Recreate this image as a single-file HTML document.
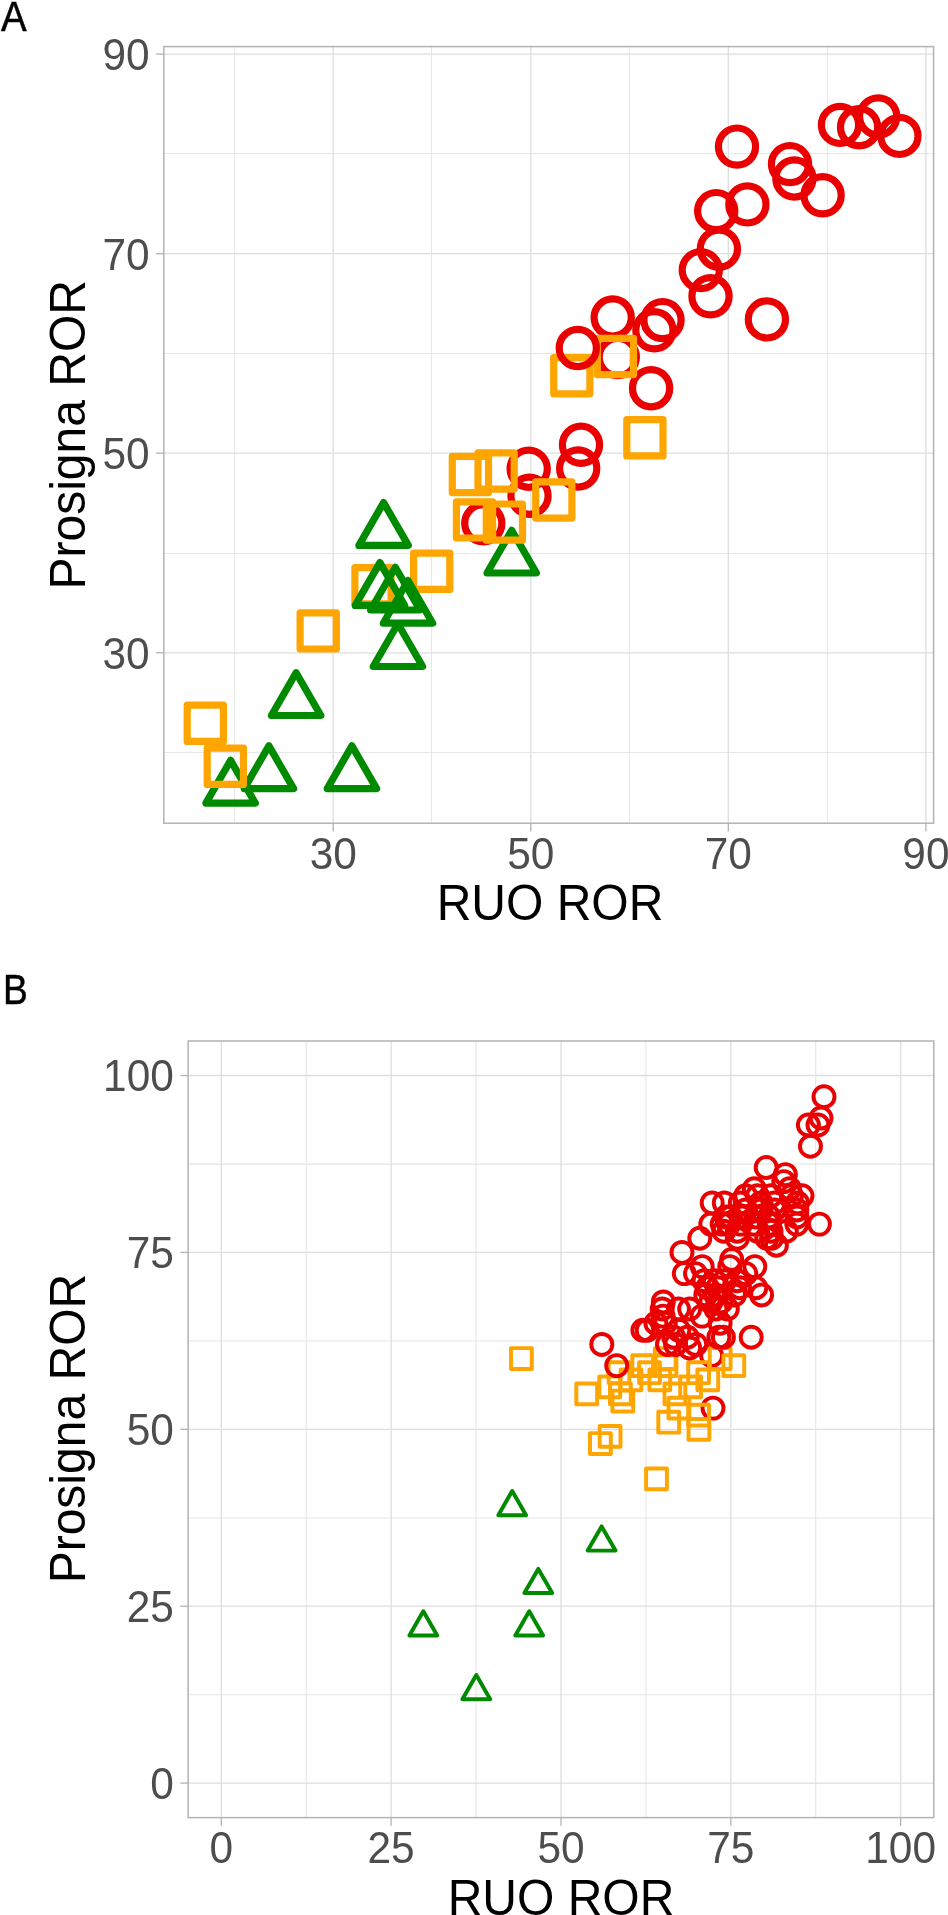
<!DOCTYPE html>
<html lang="en"><head><meta charset="utf-8"><title>ROR scatter</title>
<style>html,body{margin:0;padding:0;background:#fff}body{width:948px;height:1915px;overflow:hidden}svg{display:block;will-change:transform}</style>
</head><body>
<svg width="948" height="1915" viewBox="0 0 948 1915">
<rect width="948" height="1915" fill="#fff"/>
<g stroke="#E7E7E7" stroke-width="1" fill="none">
<path d="M234.5 46.6V823.2"/>
<path d="M163.8 752.5H933.6"/>
<path d="M431.5 46.6V823.2"/>
<path d="M163.8 553.5H933.6"/>
<path d="M629.5 46.6V823.2"/>
<path d="M163.8 353.5H933.6"/>
<path d="M827.5 46.6V823.2"/>
<path d="M163.8 153.5H933.6"/>
</g>
<g stroke="#DEDEDE" stroke-width="1.3" fill="none">
<path d="M333.2 46.6V823.2"/>
<path d="M163.8 652.8H933.6"/>
<path d="M530.8 46.6V823.2"/>
<path d="M163.8 453.2H933.6"/>
<path d="M728.3 46.6V823.2"/>
<path d="M163.8 253.7H933.6"/>
<path d="M925.9 46.6V823.2"/>
<path d="M163.8 54.1H933.6"/>
</g>
<g fill="none" stroke-width="7.2" stroke-linejoin="round">
<rect x="354.9" y="567.7" width="36.2" height="36.2" stroke="#FFA500"/>
<rect x="413.6" y="553.2" width="36.2" height="36.2" stroke="#FFA500"/>
<path d="M383.6 502.6L408.3 545.4L358.9 545.4Z" stroke="#008A00"/>
<path d="M379.9 562.6L404.6 605.4L355.2 605.4Z" stroke="#008A00"/>
<path d="M395.3 567.3L420.0 610.0L370.6 610.0Z" stroke="#008A00"/>
<path d="M408.0 580.5L432.7 623.2L383.3 623.2Z" stroke="#008A00"/>
<path d="M397.9 623.7L422.6 666.5L373.2 666.5Z" stroke="#008A00"/>
<path d="M511.7 530.3L536.4 573.0L487.0 573.0Z" stroke="#008A00"/>
<path d="M296.1 672.7L320.8 715.5L271.4 715.5Z" stroke="#008A00"/>
<path d="M268.9 745.9L293.6 788.6L244.2 788.6Z" stroke="#008A00"/>
<path d="M351.9 745.9L376.6 788.6L327.2 788.6Z" stroke="#008A00"/>
<path d="M230.6 760.4L255.3 803.1L205.9 803.1Z" stroke="#008A00"/>
<circle cx="737.0" cy="146.6" r="18.6" stroke="#EA0000"/>
<circle cx="840.0" cy="124.9" r="18.6" stroke="#EA0000"/>
<circle cx="859.1" cy="127.2" r="18.6" stroke="#EA0000"/>
<circle cx="878.2" cy="116.5" r="18.6" stroke="#EA0000"/>
<circle cx="899.4" cy="135.9" r="18.6" stroke="#EA0000"/>
<circle cx="790.0" cy="164.1" r="18.6" stroke="#EA0000"/>
<circle cx="794.4" cy="178.5" r="18.6" stroke="#EA0000"/>
<circle cx="822.6" cy="195.3" r="18.6" stroke="#EA0000"/>
<circle cx="747.4" cy="204.4" r="18.6" stroke="#EA0000"/>
<circle cx="716.2" cy="211.1" r="18.6" stroke="#EA0000"/>
<circle cx="718.9" cy="248.7" r="18.6" stroke="#EA0000"/>
<circle cx="700.8" cy="270.1" r="18.6" stroke="#EA0000"/>
<circle cx="710.5" cy="296.3" r="18.6" stroke="#EA0000"/>
<circle cx="766.9" cy="319.4" r="18.6" stroke="#EA0000"/>
<circle cx="662.5" cy="320.1" r="18.6" stroke="#EA0000"/>
<circle cx="654.4" cy="330.3" r="18.6" stroke="#EA0000"/>
<circle cx="612.7" cy="317.5" r="18.6" stroke="#EA0000"/>
<circle cx="617.8" cy="357.1" r="18.6" stroke="#EA0000"/>
<circle cx="651.1" cy="388.2" r="18.6" stroke="#EA0000"/>
<circle cx="581.0" cy="444.8" r="18.6" stroke="#EA0000"/>
<circle cx="578.2" cy="468.5" r="18.6" stroke="#EA0000"/>
<circle cx="528.7" cy="468.7" r="18.6" stroke="#EA0000"/>
<circle cx="529.5" cy="495.8" r="18.6" stroke="#EA0000"/>
<circle cx="483.3" cy="523.3" r="18.6" stroke="#EA0000"/>
<rect x="553.7" y="357.6" width="36.2" height="36.2" stroke="#FFA500"/>
<rect x="597.3" y="338.4" width="36.2" height="36.2" stroke="#FFA500"/>
<rect x="626.8" y="419.7" width="36.2" height="36.2" stroke="#FFA500"/>
<rect x="452.3" y="456.4" width="36.2" height="36.2" stroke="#FFA500"/>
<rect x="478.0" y="452.9" width="36.2" height="36.2" stroke="#FFA500"/>
<rect x="535.7" y="481.9" width="36.2" height="36.2" stroke="#FFA500"/>
<rect x="456.4" y="501.8" width="36.2" height="36.2" stroke="#FFA500"/>
<rect x="486.3" y="504.0" width="36.2" height="36.2" stroke="#FFA500"/>
<rect x="300.1" y="612.8" width="36.2" height="36.2" stroke="#FFA500"/>
<rect x="187.2" y="705.2" width="36.2" height="36.2" stroke="#FFA500"/>
<rect x="207.2" y="748.2" width="36.2" height="36.2" stroke="#FFA500"/>
<circle cx="577.8" cy="348.0" r="18.6" stroke="#EA0000"/>
</g>
<rect x="163.8" y="46.6" width="769.8" height="776.6" fill="none" stroke="#B3B3B3" stroke-width="1.5"/>
<g stroke="#B3B3B3" stroke-width="1.3">
<path d="M333.2 823.2v8.2"/>
<path d="M163.8 652.8h-7.8"/>
<path d="M530.8 823.2v8.2"/>
<path d="M163.8 453.2h-7.8"/>
<path d="M728.3 823.2v8.2"/>
<path d="M163.8 253.7h-7.8"/>
<path d="M925.9 823.2v8.2"/>
<path d="M163.8 54.1h-7.8"/>
</g>
<g font-family="Liberation Sans, sans-serif" font-size="43.5" fill="#4D4D4D">
<text transform="translate(333.2 868.8) scale(0.975 1.02)" text-anchor="middle">30</text>
<text transform="translate(149.6 668.6) scale(0.975 1.02)" text-anchor="end">30</text>
<text transform="translate(530.8 868.8) scale(0.975 1.02)" text-anchor="middle">50</text>
<text transform="translate(149.6 469.0) scale(0.975 1.02)" text-anchor="end">50</text>
<text transform="translate(728.3 868.8) scale(0.975 1.02)" text-anchor="middle">70</text>
<text transform="translate(149.6 269.5) scale(0.975 1.02)" text-anchor="end">70</text>
<text transform="translate(925.9 868.8) scale(0.975 1.02)" text-anchor="middle">90</text>
<text transform="translate(149.6 69.9) scale(0.975 1.02)" text-anchor="end">90</text>
</g>
<g font-family="Liberation Sans, sans-serif" font-size="48.5" fill="#000">
<text transform="translate(550 919.9) scale(0.99 1.03)" text-anchor="middle">RUO ROR</text>
<text transform="translate(84.9 434.8) rotate(-90) scale(0.99 1.03)" text-anchor="middle">Prosigna ROR</text>
</g>
<g font-family="Liberation Sans, sans-serif" font-size="42.7" fill="#000" stroke="#000" stroke-width="0.5">
<text transform="translate(1.0 31.4) scale(0.90 1.015)" x="0" y="0">A</text>
<text transform="translate(3.1 1004.1) scale(0.87 1.0)" x="0" y="0">B</text>
</g>
<g stroke="#E6E6E6" stroke-width="1.1" fill="none">
<path d="M306.2 1041.0V1817.6"/>
<path d="M188.1 1694.8H933.8"/>
<path d="M476.0 1041.0V1817.6"/>
<path d="M188.1 1518.0H933.8"/>
<path d="M645.9 1041.0V1817.6"/>
<path d="M188.1 1341.0H933.8"/>
<path d="M815.7 1041.0V1817.6"/>
<path d="M188.1 1164.1H933.8"/>
</g>
<g stroke="#DEDEDE" stroke-width="1.3" fill="none">
<path d="M221.3 1041.0V1817.6"/>
<path d="M188.1 1783.1H933.8"/>
<path d="M391.1 1041.0V1817.6"/>
<path d="M188.1 1606.2H933.8"/>
<path d="M561.0 1041.0V1817.6"/>
<path d="M188.1 1429.3H933.8"/>
<path d="M730.8 1041.0V1817.6"/>
<path d="M188.1 1252.4H933.8"/>
<path d="M900.6 1041.0V1817.6"/>
<path d="M188.1 1075.5H933.8"/>
</g>
<g fill="none" stroke-width="3.95" stroke-linejoin="round">
<path d="M512.2 1491.0L526.1 1515.2L498.3 1515.2Z" stroke="#008A00"/>
<path d="M601.6 1526.4L615.5 1550.6L587.7 1550.6Z" stroke="#008A00"/>
<path d="M538.3 1568.9L552.2 1593.0L524.4 1593.0Z" stroke="#008A00"/>
<path d="M423.3 1611.3L437.2 1635.5L409.4 1635.5Z" stroke="#008A00"/>
<path d="M529.2 1611.3L543.1 1635.5L515.3 1635.5Z" stroke="#008A00"/>
<path d="M476.3 1675.0L490.2 1699.2L462.4 1699.2Z" stroke="#008A00"/>
<circle cx="713.0" cy="1408.1" r="10.5" stroke="#EA0000"/>
<circle cx="711.6" cy="1355.7" r="10.5" stroke="#EA0000"/>
<rect x="511.0" y="1348.1" width="20.8" height="20.8" stroke="#FFA500"/>
<rect x="576.3" y="1383.5" width="20.8" height="20.8" stroke="#FFA500"/>
<rect x="599.7" y="1426.0" width="20.8" height="20.8" stroke="#FFA500"/>
<rect x="590.0" y="1433.1" width="20.8" height="20.8" stroke="#FFA500"/>
<rect x="599.3" y="1376.4" width="20.8" height="20.8" stroke="#FFA500"/>
<rect x="608.6" y="1362.3" width="20.8" height="20.8" stroke="#FFA500"/>
<rect x="612.4" y="1390.6" width="20.8" height="20.8" stroke="#FFA500"/>
<rect x="610.0" y="1383.5" width="20.8" height="20.8" stroke="#FFA500"/>
<rect x="632.3" y="1355.2" width="20.8" height="20.8" stroke="#FFA500"/>
<rect x="639.1" y="1362.3" width="20.8" height="20.8" stroke="#FFA500"/>
<rect x="654.9" y="1348.1" width="20.8" height="20.8" stroke="#FFA500"/>
<rect x="620.6" y="1369.4" width="20.8" height="20.8" stroke="#FFA500"/>
<rect x="709.8" y="1348.1" width="20.8" height="20.8" stroke="#FFA500"/>
<rect x="697.4" y="1369.4" width="20.8" height="20.8" stroke="#FFA500"/>
<rect x="664.5" y="1383.5" width="20.8" height="20.8" stroke="#FFA500"/>
<rect x="668.5" y="1397.7" width="20.8" height="20.8" stroke="#FFA500"/>
<rect x="688.2" y="1404.7" width="20.8" height="20.8" stroke="#FFA500"/>
<rect x="649.4" y="1369.4" width="20.8" height="20.8" stroke="#FFA500"/>
<rect x="688.2" y="1362.3" width="20.8" height="20.8" stroke="#FFA500"/>
<rect x="658.3" y="1411.8" width="20.8" height="20.8" stroke="#FFA500"/>
<rect x="688.5" y="1418.9" width="20.8" height="20.8" stroke="#FFA500"/>
<rect x="723.4" y="1355.2" width="20.8" height="20.8" stroke="#FFA500"/>
<rect x="646.1" y="1468.4" width="20.8" height="20.8" stroke="#FFA500"/>
<rect x="655.6" y="1355.2" width="20.8" height="20.8" stroke="#FFA500"/>
<rect x="680.2" y="1376.4" width="20.8" height="20.8" stroke="#FFA500"/>
<circle cx="824.0" cy="1096.7" r="10.5" stroke="#EA0000"/>
<circle cx="821.0" cy="1118.0" r="10.5" stroke="#EA0000"/>
<circle cx="818.0" cy="1125.0" r="10.5" stroke="#EA0000"/>
<circle cx="808.4" cy="1125.0" r="10.5" stroke="#EA0000"/>
<circle cx="810.5" cy="1146.3" r="10.5" stroke="#EA0000"/>
<circle cx="766.2" cy="1167.5" r="10.5" stroke="#EA0000"/>
<circle cx="819.4" cy="1224.1" r="10.5" stroke="#EA0000"/>
<circle cx="601.8" cy="1344.4" r="10.5" stroke="#EA0000"/>
<circle cx="616.7" cy="1365.6" r="10.5" stroke="#EA0000"/>
<circle cx="785.4" cy="1174.6" r="10.5" stroke="#EA0000"/>
<circle cx="783.8" cy="1181.6" r="10.5" stroke="#EA0000"/>
<circle cx="789.6" cy="1188.7" r="10.5" stroke="#EA0000"/>
<circle cx="754.3" cy="1188.7" r="10.5" stroke="#EA0000"/>
<circle cx="802.0" cy="1195.8" r="10.5" stroke="#EA0000"/>
<circle cx="757.5" cy="1195.8" r="10.5" stroke="#EA0000"/>
<circle cx="797.5" cy="1202.9" r="10.5" stroke="#EA0000"/>
<circle cx="712.2" cy="1202.9" r="10.5" stroke="#EA0000"/>
<circle cx="724.3" cy="1202.9" r="10.5" stroke="#EA0000"/>
<circle cx="740.3" cy="1202.9" r="10.5" stroke="#EA0000"/>
<circle cx="796.8" cy="1209.9" r="10.5" stroke="#EA0000"/>
<circle cx="796.8" cy="1224.1" r="10.5" stroke="#EA0000"/>
<circle cx="710.8" cy="1224.1" r="10.5" stroke="#EA0000"/>
<circle cx="722.2" cy="1224.1" r="10.5" stroke="#EA0000"/>
<circle cx="786.3" cy="1231.2" r="10.5" stroke="#EA0000"/>
<circle cx="771.6" cy="1238.2" r="10.5" stroke="#EA0000"/>
<circle cx="699.8" cy="1238.2" r="10.5" stroke="#EA0000"/>
<circle cx="776.4" cy="1245.3" r="10.5" stroke="#EA0000"/>
<circle cx="682.0" cy="1252.4" r="10.5" stroke="#EA0000"/>
<circle cx="731.7" cy="1259.5" r="10.5" stroke="#EA0000"/>
<circle cx="729.8" cy="1266.6" r="10.5" stroke="#EA0000"/>
<circle cx="754.8" cy="1266.6" r="10.5" stroke="#EA0000"/>
<circle cx="702.2" cy="1266.6" r="10.5" stroke="#EA0000"/>
<circle cx="684.3" cy="1273.6" r="10.5" stroke="#EA0000"/>
<circle cx="695.5" cy="1273.6" r="10.5" stroke="#EA0000"/>
<circle cx="745.8" cy="1273.6" r="10.5" stroke="#EA0000"/>
<circle cx="755.8" cy="1287.8" r="10.5" stroke="#EA0000"/>
<circle cx="761.6" cy="1294.9" r="10.5" stroke="#EA0000"/>
<circle cx="663.3" cy="1301.9" r="10.5" stroke="#EA0000"/>
<circle cx="662.2" cy="1309.0" r="10.5" stroke="#EA0000"/>
<circle cx="689.7" cy="1309.0" r="10.5" stroke="#EA0000"/>
<circle cx="663.0" cy="1316.1" r="10.5" stroke="#EA0000"/>
<circle cx="702.0" cy="1316.1" r="10.5" stroke="#EA0000"/>
<circle cx="655.9" cy="1323.2" r="10.5" stroke="#EA0000"/>
<circle cx="642.9" cy="1330.2" r="10.5" stroke="#EA0000"/>
<circle cx="647.2" cy="1330.2" r="10.5" stroke="#EA0000"/>
<circle cx="751.2" cy="1337.3" r="10.5" stroke="#EA0000"/>
<circle cx="718.9" cy="1337.3" r="10.5" stroke="#EA0000"/>
<circle cx="723.4" cy="1337.3" r="10.5" stroke="#EA0000"/>
<circle cx="667.5" cy="1344.4" r="10.5" stroke="#EA0000"/>
<circle cx="675.6" cy="1344.4" r="10.5" stroke="#EA0000"/>
<circle cx="689.6" cy="1347.9" r="10.5" stroke="#EA0000"/>
<circle cx="745.7" cy="1209.9" r="10.5" stroke="#EA0000"/>
<circle cx="760.9" cy="1209.9" r="10.5" stroke="#EA0000"/>
<circle cx="774.4" cy="1209.9" r="10.5" stroke="#EA0000"/>
<circle cx="726.0" cy="1217.0" r="10.5" stroke="#EA0000"/>
<circle cx="730.5" cy="1217.0" r="10.5" stroke="#EA0000"/>
<circle cx="742.3" cy="1217.0" r="10.5" stroke="#EA0000"/>
<circle cx="755.8" cy="1217.0" r="10.5" stroke="#EA0000"/>
<circle cx="769.3" cy="1217.0" r="10.5" stroke="#EA0000"/>
<circle cx="728.8" cy="1224.1" r="10.5" stroke="#EA0000"/>
<circle cx="740.6" cy="1224.1" r="10.5" stroke="#EA0000"/>
<circle cx="754.1" cy="1224.1" r="10.5" stroke="#EA0000"/>
<circle cx="769.3" cy="1224.1" r="10.5" stroke="#EA0000"/>
<circle cx="723.8" cy="1231.2" r="10.5" stroke="#EA0000"/>
<circle cx="737.3" cy="1231.2" r="10.5" stroke="#EA0000"/>
<circle cx="757.5" cy="1231.2" r="10.5" stroke="#EA0000"/>
<circle cx="737.3" cy="1238.2" r="10.5" stroke="#EA0000"/>
<circle cx="745.7" cy="1195.8" r="10.5" stroke="#EA0000"/>
<circle cx="771.0" cy="1195.8" r="10.5" stroke="#EA0000"/>
<circle cx="760.9" cy="1202.9" r="10.5" stroke="#EA0000"/>
<circle cx="774.4" cy="1202.9" r="10.5" stroke="#EA0000"/>
<circle cx="766.8" cy="1238.2" r="10.5" stroke="#EA0000"/>
<circle cx="771.0" cy="1231.2" r="10.5" stroke="#EA0000"/>
<circle cx="704.1" cy="1280.7" r="10.5" stroke="#EA0000"/>
<circle cx="714.3" cy="1280.7" r="10.5" stroke="#EA0000"/>
<circle cx="724.4" cy="1280.7" r="10.5" stroke="#EA0000"/>
<circle cx="707.5" cy="1287.8" r="10.5" stroke="#EA0000"/>
<circle cx="717.6" cy="1287.8" r="10.5" stroke="#EA0000"/>
<circle cx="705.8" cy="1294.9" r="10.5" stroke="#EA0000"/>
<circle cx="715.9" cy="1294.9" r="10.5" stroke="#EA0000"/>
<circle cx="734.4" cy="1294.9" r="10.5" stroke="#EA0000"/>
<circle cx="710.9" cy="1301.9" r="10.5" stroke="#EA0000"/>
<circle cx="721.0" cy="1301.9" r="10.5" stroke="#EA0000"/>
<circle cx="716.0" cy="1309.0" r="10.5" stroke="#EA0000"/>
<circle cx="727.3" cy="1309.0" r="10.5" stroke="#EA0000"/>
<circle cx="665.3" cy="1323.2" r="10.5" stroke="#EA0000"/>
<circle cx="678.8" cy="1330.2" r="10.5" stroke="#EA0000"/>
<circle cx="673.8" cy="1337.3" r="10.5" stroke="#EA0000"/>
<circle cx="687.3" cy="1337.3" r="10.5" stroke="#EA0000"/>
<circle cx="695.7" cy="1344.4" r="10.5" stroke="#EA0000"/>
<circle cx="720.1" cy="1323.2" r="10.5" stroke="#EA0000"/>
<circle cx="739.6" cy="1287.8" r="10.5" stroke="#EA0000"/>
<circle cx="737.0" cy="1280.7" r="10.5" stroke="#EA0000"/>
<circle cx="797.0" cy="1217.0" r="10.5" stroke="#EA0000"/>
<circle cx="791.5" cy="1195.8" r="10.5" stroke="#EA0000"/>
<circle cx="678.5" cy="1309.0" r="10.5" stroke="#EA0000"/>
</g>
<rect x="188.1" y="1041.0" width="745.7" height="776.6" fill="none" stroke="#B3B3B3" stroke-width="1.5"/>
<g stroke="#B3B3B3" stroke-width="1.3">
<path d="M221.3 1817.6v8.2"/>
<path d="M188.1 1783.1h-7.8"/>
<path d="M391.1 1817.6v8.2"/>
<path d="M188.1 1606.2h-7.8"/>
<path d="M561.0 1817.6v8.2"/>
<path d="M188.1 1429.3h-7.8"/>
<path d="M730.8 1817.6v8.2"/>
<path d="M188.1 1252.4h-7.8"/>
<path d="M900.6 1817.6v8.2"/>
<path d="M188.1 1075.5h-7.8"/>
</g>
<g font-family="Liberation Sans, sans-serif" font-size="43.5" fill="#4D4D4D">
<text transform="translate(221.3 1863.1) scale(0.975 1.02)" text-anchor="middle">0</text>
<text transform="translate(173.8 1798.9) scale(0.975 1.02)" text-anchor="end">0</text>
<text transform="translate(391.1 1863.1) scale(0.975 1.02)" text-anchor="middle">25</text>
<text transform="translate(173.8 1622.0) scale(0.975 1.02)" text-anchor="end">25</text>
<text transform="translate(561.0 1863.1) scale(0.975 1.02)" text-anchor="middle">50</text>
<text transform="translate(173.8 1445.1) scale(0.975 1.02)" text-anchor="end">50</text>
<text transform="translate(730.8 1863.1) scale(0.975 1.02)" text-anchor="middle">75</text>
<text transform="translate(173.8 1268.2) scale(0.975 1.02)" text-anchor="end">75</text>
<text transform="translate(900.6 1863.1) scale(0.975 1.02)" text-anchor="middle">100</text>
<text transform="translate(173.8 1091.3) scale(0.975 1.02)" text-anchor="end">100</text>
</g>
<g font-family="Liberation Sans, sans-serif" font-size="48.5" fill="#000">
<text transform="translate(561 1914.7) scale(0.99 1.03)" text-anchor="middle">RUO ROR</text>
<text transform="translate(85 1428.6) rotate(-90) scale(0.99 1.03)" text-anchor="middle">Prosigna ROR</text>
</g>
</svg>
</body></html>
